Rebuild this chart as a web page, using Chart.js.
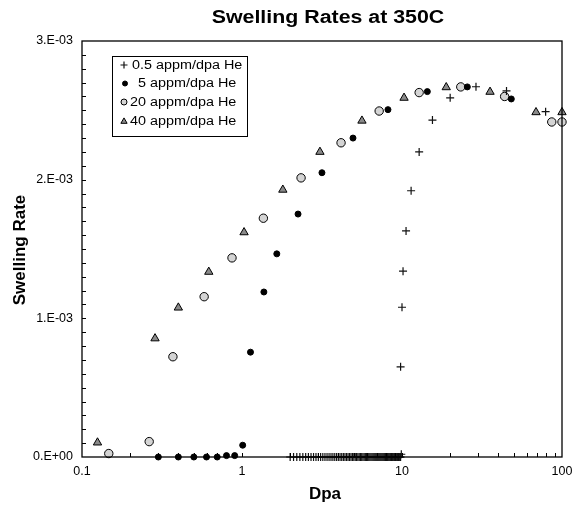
<!DOCTYPE html>
<html>
<head>
<meta charset="utf-8">
<script src="https://cdn.jsdelivr.net/npm/chart.js@4.4.1/dist/chart.umd.min.js"></script>
<style>
  html, body { margin: 0; padding: 0; background: #fff; }
  #chart { display: block; }
</style>
</head>
<body>
<canvas id="chart" width="581" height="508"></canvas>
<script>
// 0.5 appm/dpa He - rising part
const plusX = [9.8, 10.0, 10.15, 10.6, 11.4, 12.8, 15.5, 20, 29, 45, 79];
const plusY = [0.65e-3, 1.08e-3, 1.34e-3, 1.63e-3, 1.92e-3, 2.20e-3, 2.43e-3, 2.59e-3, 2.67e-3, 2.64e-3, 2.49e-3];
// 0.5 appm/dpa He - points sitting on the axis (swelling rate 0)
const plusLowX = [2.0, 2.1, 2.2, 2.3, 2.4, 2.5, 2.6, 2.7, 2.8, 2.9,
  3.0, 3.1, 3.2, 3.3, 3.4, 3.5, 3.6, 3.7, 3.8, 3.9,
  4.0, 4.1, 4.2, 4.3, 4.4, 4.5, 4.6, 4.7, 4.8, 4.9,
  5.0, 5.1, 5.2, 5.3, 5.4, 5.5, 5.6, 5.7, 5.8, 5.9,
  6.0, 6.1, 6.2, 6.3, 6.4, 6.5, 6.6, 6.7, 6.8, 6.9,
  7.0, 7.1, 7.2, 7.3, 7.4, 7.5, 7.6, 7.7, 7.8, 7.9,
  8.0, 8.1, 8.2, 8.3, 8.4, 8.5, 8.6, 8.7, 8.8, 8.9,
  9.0, 9.1, 9.2, 9.3, 9.4, 9.5, 9.6, 9.7, 9.8, 9.9, 10.0];
const plusLowY = [0, 0, 0, 0, 0, 0, 0, 0, 0, 0,
  0, 0, 0, 0, 0, 0, 0, 0, 0, 0,
  0, 0, 0, 0, 0, 0, 0, 0, 0, 0,
  0, 0, 0, 0, 0, 0, 0, 0, 0, 0,
  0, 0, 0, 0, 0, 0, 0, 0, 0, 0,
  0, 0, 0, 0, 0, 0, 0, 0, 0, 0,
  0, 0, 0, 0, 0, 0, 0, 0, 0, 0,
  0, 0, 0, 0, 0, 0, 0, 0, 0, 0.02e-3];

// 5 appm/dpa He
const dotX = [0.3, 0.4, 0.5, 0.6, 0.7, 0.8, 0.9, 1.01, 1.13, 1.37, 1.65, 2.24, 3.16, 4.94, 8.17, 14.4, 25.6, 48.2];
const dotY = [0, 0, 0, 0, 0, 0.01e-3, 0.01e-3, 0.085e-3, 0.756e-3, 1.19e-3, 1.465e-3, 1.752e-3, 2.05e-3, 2.30e-3, 2.505e-3, 2.635e-3, 2.669e-3, 2.582e-3];

// 20 appm/dpa He
const circX = [0.147, 0.263, 0.37, 0.58, 0.866, 1.36, 2.34, 4.16, 7.2, 12.8, 23.3, 43.8, 86.3, 100];
const circY = [0.025e-3, 0.111e-3, 0.723e-3, 1.156e-3, 1.436e-3, 1.722e-3, 2.013e-3, 2.266e-3, 2.495e-3, 2.628e-3, 2.669e-3, 2.60e-3, 2.416e-3, 2.416e-3];

// 40 appm/dpa He
const triX = [0.125, 0.286, 0.4, 0.62, 1.03, 1.8, 3.07, 5.62, 10.3, 18.9, 35.5, 68.8, 100];
const triY = [0.104e-3, 0.855e-3, 1.077e-3, 1.335e-3, 1.62e-3, 1.927e-3, 2.20e-3, 2.425e-3, 2.59e-3, 2.666e-3, 2.633e-3, 2.486e-3, 2.486e-3];

const seriesNames = ['0.5 appm/dpa He', '5 appm/dpa He', '20 appm/dpa He', '40 appm/dpa He'];
const xTickValues = [0.1, 1, 10, 100];
const yTickLabels = ['0.E+00', '1.E-03', '2.E-03', '3.E-03'];

const FONT = '"Liberation Sans", Arial, Helvetica, sans-serif';

function pts(xs, ys) {
  return xs.map((x, i) => ({ x: x, y: ys[i] }));
}

const styles = [
  { pointStyle: 'cross', radius: 4, backgroundColor: '#000', borderColor: '#111', borderWidth: 1.2 },
  { pointStyle: 'circle', radius: 3, backgroundColor: '#000', borderColor: '#000', borderWidth: 1 },
  { pointStyle: 'circle', radius: 4.2, backgroundColor: '#d4d4d4', borderColor: '#000', borderWidth: 1 },
  { pointStyle: 'triangle', radius: 4.8, backgroundColor: '#8a8a8a', borderColor: '#000', borderWidth: 1 }
];

function ds(label, data, st) {
  return {
    label: label,
    data: data,
    showLine: false,
    pointStyle: st.pointStyle,
    pointRadius: st.radius,
    pointHoverRadius: st.radius,
    pointBackgroundColor: st.backgroundColor,
    pointBorderColor: st.borderColor,
    pointBorderWidth: st.borderWidth,
    clip: false
  };
}

// frame, inward ticks, titles and legend
const decorations = {
  id: 'decorations',
  afterDatasetsDraw(chart) {
    const ctx = chart.ctx;
    const a = chart.chartArea;
    const xs = chart.scales.x;
    const ys = chart.scales.y;
    ctx.save();
    ctx.strokeStyle = '#000';
    ctx.lineWidth = 1.3;
    ctx.strokeRect(a.left, a.top, a.right - a.left, a.bottom - a.top);

    ctx.lineWidth = 1;
    ctx.beginPath();
    for (let i = 1; i < 30; i++) {
      const py = Math.round(ys.getPixelForValue(i * 1e-4)) + 0.5;
      ctx.moveTo(a.left, py);
      ctx.lineTo(a.left + 4, py);
    }
    [0.1, 1, 10].forEach(d => {
      for (let k = 1; k <= 9; k++) {
        if (d === 0.1 && k === 1) continue;
        const px = Math.round(xs.getPixelForValue(d * k)) + 0.5;
        ctx.moveTo(px, a.bottom);
        ctx.lineTo(px, a.bottom - 4);
      }
    });
    ctx.stroke();

    // chart title
    ctx.fillStyle = '#000';
    ctx.textBaseline = 'alphabetic';
    ctx.textAlign = 'center';
    ctx.save();
    ctx.translate(328, 23);
    ctx.scale(1.22, 1);
    ctx.font = 'bold 17.5px ' + FONT;
    ctx.fillText('Swelling Rates at 350C', 0, 0);
    ctx.restore();

    // axis titles
    ctx.font = 'bold 17px ' + FONT;
    ctx.fillText('Dpa', 325, 499);
    ctx.save();
    ctx.translate(25, 250);
    ctx.rotate(-Math.PI / 2);
    ctx.fillText('Swelling Rate', 0, 0);
    ctx.restore();

    // legend box
    ctx.fillStyle = '#fff';
    ctx.fillRect(112, 56, 136, 81);
    ctx.strokeStyle = '#000';
    ctx.lineWidth = 1;
    ctx.strokeRect(112.5, 56.5, 135, 80);
    const rowY = [65, 83.5, 102, 121.5];
    const markX = [124, 125, 124, 124];
    const textX = [132, 138, 130, 130];
    const legR = [3.5, 2.5, 3, 3.6];
    ctx.textAlign = 'left';
    ctx.textBaseline = 'middle';
    seriesNames.forEach((name, i) => {
      const st = styles[i];
      ctx.fillStyle = st.backgroundColor;
      ctx.strokeStyle = st.borderColor;
      ctx.lineWidth = st.borderWidth;
      Chart.helpers.drawPoint(ctx, { pointStyle: st.pointStyle, radius: legR[i], borderWidth: st.borderWidth }, markX[i], rowY[i]);
      ctx.fillStyle = '#000';
      ctx.save();
      ctx.translate(textX[i], rowY[i] + 0.5);
      ctx.scale(1.15, 1);
      ctx.font = '12.5px ' + FONT;
      ctx.fillText(name, 0, 0);
      ctx.restore();
    });
    ctx.restore();
  }
};

new Chart(document.getElementById('chart'), {
  type: 'scatter',
  data: {
    datasets: [
      ds(seriesNames[0], pts(plusX, plusY).concat(pts(plusLowX, plusLowY)), styles[0]),
      ds(seriesNames[1], pts(dotX, dotY), styles[1]),
      ds(seriesNames[2], pts(circX, circY), styles[2]),
      ds(seriesNames[3], pts(triX, triY), styles[3])
    ]
  },
  options: {
    responsive: false,
    animation: false,
    devicePixelRatio: 1,
    layout: { padding: { top: 41, right: 19, left: 0, bottom: 0 } },
    plugins: {
      legend: { display: false },
      title: { display: false },
      tooltip: { enabled: false }
    },
    scales: {
      x: {
        type: 'logarithmic',
        min: 0.1,
        max: 100,
        afterBuildTicks: s => { s.ticks = xTickValues.map(v => ({ value: v })); },
        afterFit: s => { s.height = 51; },
        grid: { display: false, drawTicks: false },
        border: { display: false },
        ticks: {
          color: '#000',
          padding: 7,
          maxRotation: 0,
          autoSkip: false,
          font: { family: FONT, size: 12.5 },
          callback: v => String(v)
        }
      },
      y: {
        type: 'linear',
        min: 0,
        max: 3e-3,
        afterBuildTicks: s => { s.ticks = [0, 1e-3, 2e-3, 3e-3].map(v => ({ value: v })); },
        afterFit: s => { s.width = 82; },
        grid: { display: false, drawTicks: false },
        border: { display: false },
        ticks: {
          color: '#000',
          padding: 9,
          font: { family: FONT, size: 12.5 },
          callback: (v, i) => yTickLabels[i]
        }
      }
    }
  },
  plugins: [decorations]
});
</script>
</body>
</html>
